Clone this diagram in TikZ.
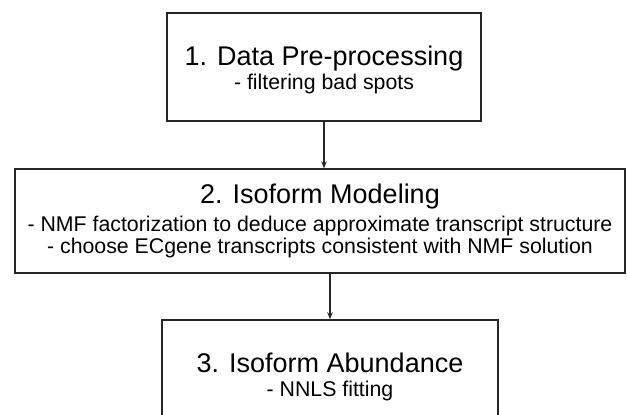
\documentclass[tikz,border=0pt]{standalone}
\usepackage{fontspec}
\setmainfont{Liberation Sans}
\usetikzlibrary{arrows.meta}
\begin{document}
\begin{tikzpicture}[x=1pt,y=-1pt,
  stagebox/.style={draw=black!85, line width=1.4pt, rectangle, inner sep=0pt},
  ttl/.style={font=\fontsize{27}{32}\selectfont, inner sep=0pt, anchor=base},
  subline/.style={font=\fontsize{21.3}{24}\selectfont, inner sep=0pt, anchor=base},
  flow/.style={draw=black!85, line width=1.4pt, -{Stealth[length=7pt,width=5.5pt]}}]
\useasboundingbox (0,0) rectangle (627,415);
\clip (0,0) rectangle (627,415);
\fill[white] (0,0) rectangle (627,415);

% stage frames (the third runs past the lower edge)
\node[stagebox, minimum width=314pt, minimum height=108pt] (b1) at (324,67) {};
\node[stagebox, minimum width=610pt, minimum height=104pt] (b2) at (320,221) {};
\node[stagebox, minimum width=336pt, minimum height=108pt] (b3) at (330,374) {};

% stage 1
\node[ttl] (t1) at (324,65) {1. Data Pre-processing};
\node[subline] (s1) at (324,89) {- filtering bad spots};

% stage 2
\node[ttl] (t2) at (320,203) {2. Isoform Modeling};
\node[subline] (s2a) at (320,231) {- NMF factorization to deduce approximate transcript structure};
\node[subline] (s2b) at (320,253) {- choose ECgene transcripts consistent with NMF solution};

% stage 3
\node[ttl] (t3) at (330,372) {3. Isoform Abundance};
\node[subline] (s3) at (330,396) {- NNLS fitting};

% flow between stages
\draw[flow] (b1.south) -- (b1.south |- b2.north);
\draw[flow] (b3.north |- b2.south) -- (b3.north);
\end{tikzpicture}
\end{document}
